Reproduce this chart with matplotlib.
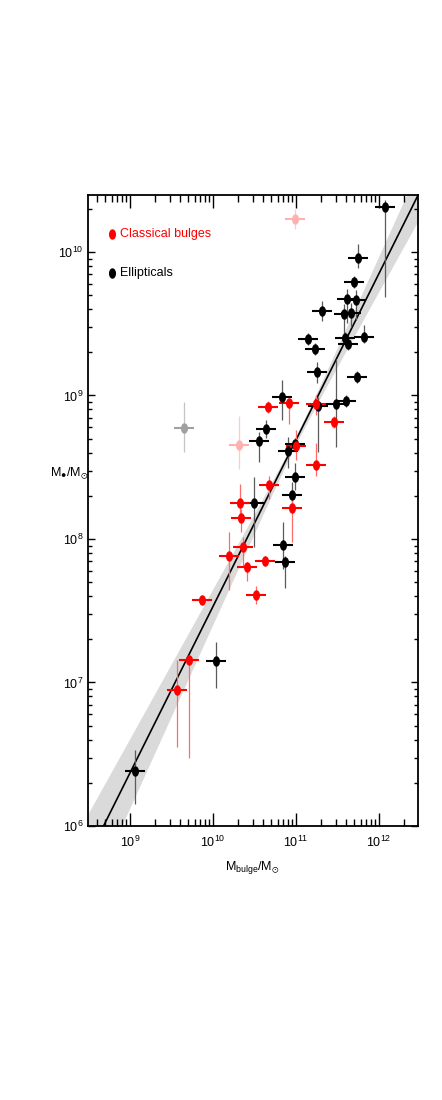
import numpy as np
import matplotlib
matplotlib.use('Agg')
import matplotlib.pyplot as plt
from matplotlib import font_manager
from matplotlib.path import Path
from matplotlib.ticker import LogLocator, NullFormatter, FixedLocator, FixedFormatter

try:
    font_manager.findfont('Liberation Sans Narrow', fallback_to_default=False)
    FAM = 'Liberation Sans Narrow'
    FS = 10.5
except Exception:
    FAM = 'Liberation Sans'
    FS = 9.0

plt.rcParams['font.family'] = [FAM, 'DejaVu Sans']
plt.rcParams['mathtext.fontset'] = 'custom'
plt.rcParams['mathtext.rm'] = FAM
plt.rcParams['mathtext.it'] = FAM
plt.rcParams['mathtext.bf'] = FAM
plt.rcParams['mathtext.fallback'] = 'stixsans'

# ---------------- data (log10 values) ----------------
# Ellipticals
ell_logx = [12.072, 11.747, 11.699, 11.614, 11.723, 11.313, 11.578, 11.663, 11.590, 11.627,
            11.819, 11.145, 11.229, 11.253, 11.735, 10.831, 11.265, 11.482, 11.602, 10.639,
            10.554, 10.904, 10.988, 10.988, 10.952, 10.494, 10.843, 10.867, 10.036, 9.060]
ell_logy = [10.314, 9.958, 9.791, 9.672, 9.666, 9.589, 9.568, 9.575, 9.401, 9.359,
            9.408, 9.394, 9.324, 9.164, 9.129, 8.990, 8.927, 8.941, 8.962, 8.767,
            8.683, 8.613, 8.662, 8.432, 8.307, 8.251, 7.958, 7.840, 7.150, 6.383]
ell_err_up = [0.05, 0.10, 0.04, 0.07, 0.07, 0.07, 0.07, 0.07, 0.04, 0.04,
              0.08, 0.04, 0.04, 0.07, 0.04, 0.12, 0.06, 0.31, 0.04, 0.06,
              0.06, 0.10, 0.04, 0.10, 0.09, 0.18, 0.16, 0.04, 0.13, 0.15]
ell_err_dn = [0.63, 0.07, 0.04, 0.17, 0.14, 0.07, 0.14, 0.10, 0.04, 0.04,
              0.04, 0.04, 0.04, 0.08, 0.04, 0.16, 0.32, 0.30, 0.04, 0.06,
              0.15, 0.12, 0.04, 0.09, 0.08, 0.31, 0.17, 0.18, 0.19, 0.23]

# Classical bulges
cb_logx = [10.663, 10.916, 11.241, 11.458, 11.000, 11.241, 10.675, 10.952, 10.325, 10.337,
           10.361, 10.193, 10.627, 10.410, 10.518, 9.867, 9.711, 9.566]
cb_logy = [8.920, 8.948, 8.941, 8.815, 8.648, 8.516, 8.376, 8.216, 8.251, 8.146,
           7.944, 7.882, 7.847, 7.805, 7.610, 7.575, 7.157, 6.948]
cb_err_up = [0.04, 0.035, 0.06, 0.04, 0.11, 0.15, 0.06, 0.06, 0.13, 0.06,
             0.07, 0.17, 0.035, 0.035, 0.06, 0.035, 0.035, 0.21]
cb_err_dn = [0.04, 0.15, 0.08, 0.04, 0.10, 0.08, 0.10, 0.24, 0.12, 0.10,
             0.13, 0.24, 0.035, 0.10, 0.06, 0.035, 0.68, 0.40]

# Omitted bulges (pale red) and omitted elliptical (grey)
om_cb_logx = [10.313, 10.988]
om_cb_logy = [8.655, 10.230]
om_cb_err_up = [0.20, 0.07]
om_cb_err_dn = [0.17, 0.07]
om_ell_logx = [9.651]
om_ell_logy = [8.774]
om_ell_err_up = [0.18]
om_ell_err_dn = [0.17]

xerr_dex = 0.12

# fit: log M = a + b (log Mbulge - 11)
fit_a, fit_b = 8.69, 1.16
band_sa, band_sb = 0.03, 0.12

x_major = [1e9, 1e10, 1e11, 1e12]
x_labels = [r'$10^{9}$', r'$10^{10}$', r'$10^{11}$', r'$10^{12}$']
y_major = [1e6, 1e7, 1e8, 1e9, 1e10]
y_labels = [r'$10^{6}$', r'$10^{7}$', r'$10^{8}$', r'$10^{9}$', r'$10^{10}$']

# ---------------- figure ----------------
fig = plt.figure(figsize=(4.42, 11.0), dpi=100)
ax = fig.add_axes([88/442, 1-826/1100, 330/442, 631/1100])
ax.set_xscale('log')
ax.set_yscale('log')
ax.set_xlim(10**8.494, 10**12.47)
ax.set_ylim(1e6, 10**10.397)

t = np.linspace(0, 2*np.pi, 60)
ell_marker = Path(np.column_stack([0.62*np.cos(t), np.sin(t)]), closed=True)
MS = 6.5

# band + fit line
lx = np.linspace(8.3, 12.7, 300)
dl = lx - 11.0
ly = fit_a + fit_b*dl
hw = np.sqrt(band_sa**2 + (band_sb*dl)**2)
ax.fill_between(10**lx, 10**(ly-hw), 10**(ly+hw), color='#dadada', lw=0, zorder=1)
ax.plot(10**lx, 10**ly, color='black', lw=1.2, zorder=2)


def draw(lxs, lys, up, dn, col, vcol):
    lxs = np.asarray(lxs); lys = np.asarray(lys)
    up = np.asarray(up); dn = np.asarray(dn)
    xv = 10**lxs; yv = 10**lys
    xe = [xv - 10**(lxs-xerr_dex), 10**(lxs+xerr_dex) - xv]
    ye = [yv - 10**(lys-dn), 10**(lys+up) - yv]
    ax.errorbar(xv, yv, yerr=ye, fmt='none', ecolor=vcol, elinewidth=0.9, capsize=0, zorder=3)
    ax.errorbar(xv, yv, xerr=xe, fmt='none', ecolor=col, elinewidth=1.5, capsize=0, zorder=4)
    ax.plot(xv, yv, ls='none', marker=ell_marker, ms=MS, color=col, mec=col, zorder=5)


draw(om_ell_logx, om_ell_logy, om_ell_err_up, om_ell_err_dn, '#a0a0a0', '#c4c4c4')
draw(om_cb_logx, om_cb_logy, om_cb_err_up, om_cb_err_dn, '#ffb0b0', '#ffcaca')
draw(ell_logx, ell_logy, ell_err_up, ell_err_dn, 'black', '#5a5a5a')
draw(cb_logx, cb_logy, cb_err_up, cb_err_dn, 'red', '#ff6a6a')

# legend (manual)
ax.plot([0.073], [0.938], transform=ax.transAxes, ls='none', marker=ell_marker, ms=MS, color='red')
ax.text(0.097, 0.938, 'Classical bulges', transform=ax.transAxes, color='red',
        fontsize=FS, va='center', ha='left')
ax.plot([0.073], [0.876], transform=ax.transAxes, ls='none', marker=ell_marker, ms=MS, color='black')
ax.text(0.097, 0.876, 'Ellipticals', transform=ax.transAxes, color='black',
        fontsize=FS, va='center', ha='left')

# ticks
ax.xaxis.set_major_locator(FixedLocator(x_major))
ax.xaxis.set_major_formatter(FixedFormatter(x_labels))
ax.yaxis.set_major_locator(FixedLocator(y_major))
ax.yaxis.set_major_formatter(FixedFormatter(y_labels))
ax.xaxis.set_minor_locator(LogLocator(base=10, subs=np.arange(2, 10), numticks=20))
ax.yaxis.set_minor_locator(LogLocator(base=10, subs=np.arange(2, 10), numticks=20))
ax.xaxis.set_minor_formatter(NullFormatter())
ax.yaxis.set_minor_formatter(NullFormatter())
ax.tick_params(which='both', direction='in', top=True, right=True, width=1.0, labelsize=FS)
ax.tick_params(axis='x', which='major', length=9.5, pad=6)
ax.tick_params(axis='x', which='minor', length=5)
ax.tick_params(axis='y', which='major', length=5, pad=3)
ax.tick_params(axis='y', which='minor', length=3)
for s in ax.spines.values():
    s.set_linewidth(1.3)

# y label: M_bullet / M_sun
fig.text(69/442, 1-473/1100, '$\\mathrm{M}_{\u25CF}/\\mathrm{M}_{\u2299}$', fontsize=FS,
         ha='center', va='center')
fig.text(252/442, 1-867/1100, '$\\mathrm{M}_{\\mathrm{bulge}}/\\mathrm{M}_{\u2299}$', fontsize=FS,
         ha='center', va='center')

fig.savefig('out.png', dpi=100)
